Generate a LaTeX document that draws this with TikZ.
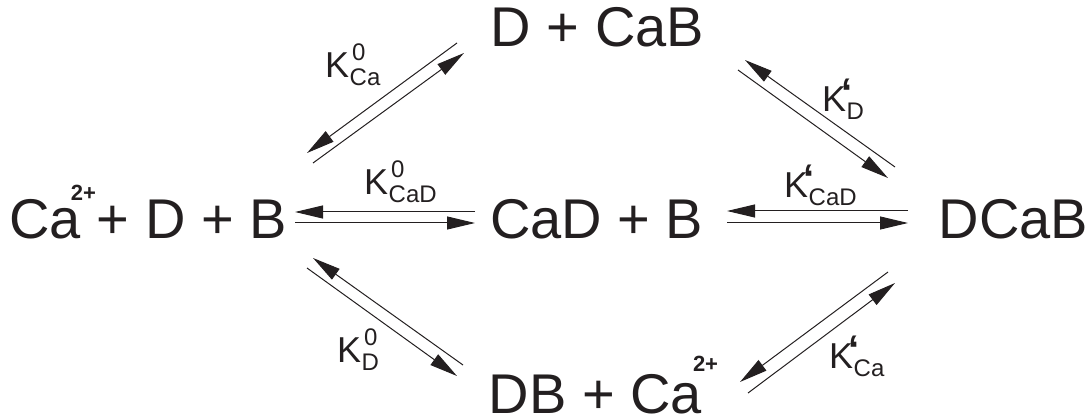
\documentclass[tikz,border=0pt]{standalone}
\usepackage{fontspec}
\setmainfont{Liberation Sans}
\usetikzlibrary{arrows.meta}
\definecolor{ink}{HTML}{231F20}
\newcommand\mainf{\fontsize{56}{60}\selectfont}
\newcommand\scrf{\fontsize{24}{24}\selectfont}
\newcommand\chg[2]{\raisebox{#1}{\fontsize{22}{22}\selectfont\bfseries #2}}
% K with superscript zero
\newcommand\kz[1]{K\rlap{\kern3pt\raisebox{17pt}{\scrf 0}}\kern0.5pt\raisebox{-8pt}{\scrf #1}}
% K with prime mark
\newcommand\kp[1]{K\rlap{\kern-5pt\raisebox{5pt}{\fontsize{40}{40}\selectfont\bfseries ‘}}\kern0.5pt\raisebox{-8pt}{\scrf #1}}
\tikzset{
  species/.style={inner sep=0pt, anchor=base west, text=ink, font=\mainf},
  klab/.style={inner sep=0pt, anchor=base west, text=ink, font=\fontsize{36}{36}\selectfont},
  rxn/.style={draw=ink, line width=1pt, -{Triangle[length=28pt,width=13pt]}},
}
\begin{document}
\begin{tikzpicture}[x=1pt,y=1pt]
\useasboundingbox (0,0) rectangle (1091,418);
% species
\node[species] (L) at (9,179) {Ca\kern-10pt\chg{38pt}{2+}\kern1pt+ D + B};
\node[species] (M) at (490,179) {CaD + B};
\node[species] (R) at (938.5,179) {DCaB};
\node[species] (T) at (490.6,371) {D + CaB};
\node[species] (B) at (488.6,5) {DB + Ca\kern-9pt\chg{42pt}{2+}};
% labels
\node[klab] (k1) at (325,340) {\kz{Ca}};
\node[klab] (k2) at (364,223) {\kz{CaD}};
\node[klab] (k3) at (822,306) {\kp{D}};
\node[klab] (k4) at (784,220) {\kp{CaD}};
\node[klab] (k5) at (337,56) {\kz{D}};
\node[klab] (k6) at (829,50) {\kp{Ca}};
% arrow end points
\coordinate (a1s) at (457,375); \coordinate (a1t) at (307,265);
\coordinate (a2s) at (313,255); \coordinate (a2t) at (464,365);
\coordinate (b1s) at (895,251); \coordinate (b1t) at (745,358);
\coordinate (b2s) at (738,348); \coordinate (b2t) at (888,240);
\coordinate (c1s) at (475,206); \coordinate (c1t) at (295,206);
\coordinate (c2s) at (295,195); \coordinate (c2t) at (475,195);
\coordinate (d1s) at (908,207); \coordinate (d1t) at (727,207);
\coordinate (d2s) at (727,195); \coordinate (d2t) at (908,195);
\coordinate (e1s) at (463,53);  \coordinate (e1t) at (313,160);
\coordinate (e2s) at (307,150); \coordinate (e2t) at (457,42);
\coordinate (f1s) at (888,146); \coordinate (f1t) at (740,36);
\coordinate (f2s) at (748,25);  \coordinate (f2t) at (895,135);
% arrows
\draw[rxn] (a1s) -- (a1t);
\draw[rxn] (a2s) -- (a2t);
\draw[rxn] (b1s) -- (b1t);
\draw[rxn] (b2s) -- (b2t);
\draw[rxn] (c1s) -- (c1t);
\draw[rxn] (c2s) -- (c2t);
\draw[rxn] (d1s) -- (d1t);
\draw[rxn] (d2s) -- (d2t);
\draw[rxn] (e1s) -- (e1t);
\draw[rxn] (e2s) -- (e2t);
\draw[rxn] (f1s) -- (f1t);
\draw[rxn] (f2s) -- (f2t);
\end{tikzpicture}
\end{document}
